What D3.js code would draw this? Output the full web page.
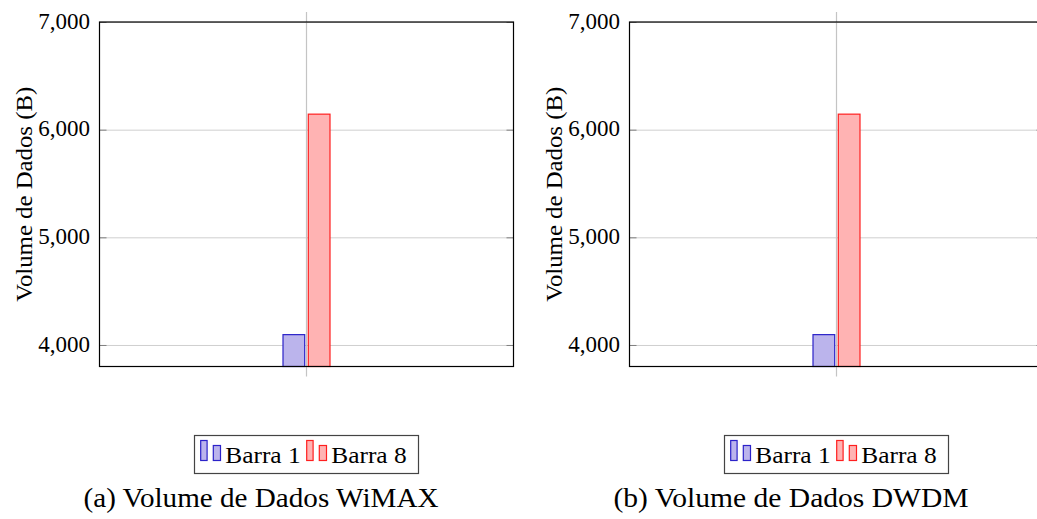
<!DOCTYPE html>
<html>
<head>
<meta charset="utf-8">
<script src="https://cdn.jsdelivr.net/npm/d3@7/dist/d3.min.js"></script>
<style>
  html, body { margin: 0; padding: 0; background: #fff; }
  svg { display: block; }
  text { font-family: "Liberation Serif", "Times New Roman", serif; fill: #000; }
</style>
</head>
<body>
<svg id="chart" width="1037" height="519"></svg>
<script>
// ---- data ----
const categories = ["1"];
const seriesNames = ["Barra 1", "Barra 8"];
const wimaxValues = [4096, 6144];
const dwdmValues = [4096, 6144];
const yTicks = [4000, 5000, 6000, 7000];
const yDomain = [3800, 7000];
const captions = ["(a) Volume de Dados WiMAX", "(b) Volume de Dados DWDM"];
const yLabel = "Volume de Dados (B)";

// ---- styles ----
const seriesStroke = ["#2b22c9", "#ff1f1f"];
const seriesFill = ["#bbb4ec", "#ffb3b3"];

const svg = d3.select("#chart");

function drawPanel(offsetX, values, caption) {
  const left = 99.5, right = 513.5, top = 22, bottom = 366.5;
  const g = svg.append("g").attr("transform", `translate(${offsetX},0)`);

  const x = d3.scaleBand().domain(categories).range([left, right]);
  const xs = d3.scaleBand().domain(seriesNames).range([-23.5, 23.5]).paddingInner(0.142);
  const y = d3.scaleLinear().domain(yDomain).range([bottom, top]);

  // horizontal grid
  g.append("g")
    .attr("transform", `translate(${left},0)`)
    .call(d3.axisLeft(y).tickValues(yTicks).tickSize(-(right - left)).tickFormat(""))
    .call(s => s.select(".domain").remove())
    .call(s => s.selectAll(".tick line").attr("stroke", "#cfcfcf").attr("stroke-width", 1));

  // vertical grid / x tick extending beyond axis
  categories.forEach(c => {
    const cx = x(c) + x.bandwidth() / 2;
    g.append("line")
      .attr("x1", cx).attr("x2", cx)
      .attr("y1", top - 10).attr("y2", bottom + 10)
      .attr("stroke", "#c4c4c4").attr("stroke-width", 1.2);
  });

  // bars
  categories.forEach(c => {
    const cx = x(c) + x.bandwidth() / 2;
    seriesNames.forEach((s, i) => {
      g.append("rect")
        .attr("x", cx + xs(s))
        .attr("y", y(values[i]))
        .attr("width", xs.bandwidth())
        .attr("height", y(yDomain[0]) - y(values[i]))
        .attr("fill", seriesFill[i])
        .attr("stroke", seriesStroke[i])
        .attr("stroke-width", 1.2);
    });
  });

  // left axis: inward ticks + labels
  const la = g.append("g")
    .attr("transform", `translate(${left},0)`)
    .call(d3.axisLeft(y).tickValues(yTicks).tickSize(-7).tickPadding(9.5).tickFormat(d3.format(",")));
  la.select(".domain").remove();
  la.selectAll(".tick line").attr("stroke", "#808080").attr("stroke-width", 1);
  la.selectAll(".tick text")
    .attr("font-family", "Liberation Serif")
    .attr("font-size", 23)
    .attr("fill", "#000")
    .attr("dy", "0.27em");

  // right axis: inward ticks
  const ra = g.append("g")
    .attr("transform", `translate(${right},0)`)
    .call(d3.axisRight(y).tickValues(yTicks).tickSize(-7).tickFormat(""));
  ra.select(".domain").remove();
  ra.selectAll(".tick line").attr("stroke", "#808080").attr("stroke-width", 1);

  // frame
  g.append("rect")
    .attr("x", left).attr("y", top)
    .attr("width", right - left).attr("height", bottom - top)
    .attr("fill", "none").attr("stroke", "#000").attr("stroke-width", 1.2);

  // y label
  g.append("text")
    .attr("transform", `translate(32,${(top + bottom) / 2}) rotate(-90)`)
    .attr("text-anchor", "middle")
    .attr("font-size", 23)
    .attr("textLength", 215)
    .attr("lengthAdjust", "spacingAndGlyphs")
    .text(yLabel);

  // legend
  const lg = g.append("g");
  lg.append("rect")
    .attr("x", 194.5).attr("y", 435.5)
    .attr("width", 224).attr("height", 38)
    .attr("fill", "#fff").attr("stroke", "#444").attr("stroke-width", 1.2);
  const entryX = [200.7, 306.7];
  seriesNames.forEach((s, i) => {
    const ex = entryX[i];
    lg.append("rect")
      .attr("x", ex).attr("y", 440.5).attr("width", 6.4).attr("height", 20)
      .attr("fill", seriesFill[i]).attr("stroke", seriesStroke[i]).attr("stroke-width", 1.2);
    lg.append("rect")
      .attr("x", ex + 12.6).attr("y", 445.5).attr("width", 7.2).attr("height", 15)
      .attr("fill", seriesFill[i]).attr("stroke", seriesStroke[i]).attr("stroke-width", 1.2);
    lg.append("text")
      .attr("x", ex + 24.5).attr("y", 463.3)
      .attr("font-size", 23)
      .attr("textLength", 75.5)
      .attr("lengthAdjust", "spacingAndGlyphs")
      .text(s);
  });

  // caption
  g.append("text")
    .attr("x", 261).attr("y", 507)
    .attr("text-anchor", "middle")
    .attr("font-size", 26.5)
    .attr("textLength", 355)
    .attr("lengthAdjust", "spacingAndGlyphs")
    .text(caption);
}

drawPanel(0, wimaxValues, captions[0]);
drawPanel(530, dwdmValues, captions[1]);
</script>
</body>
</html>
